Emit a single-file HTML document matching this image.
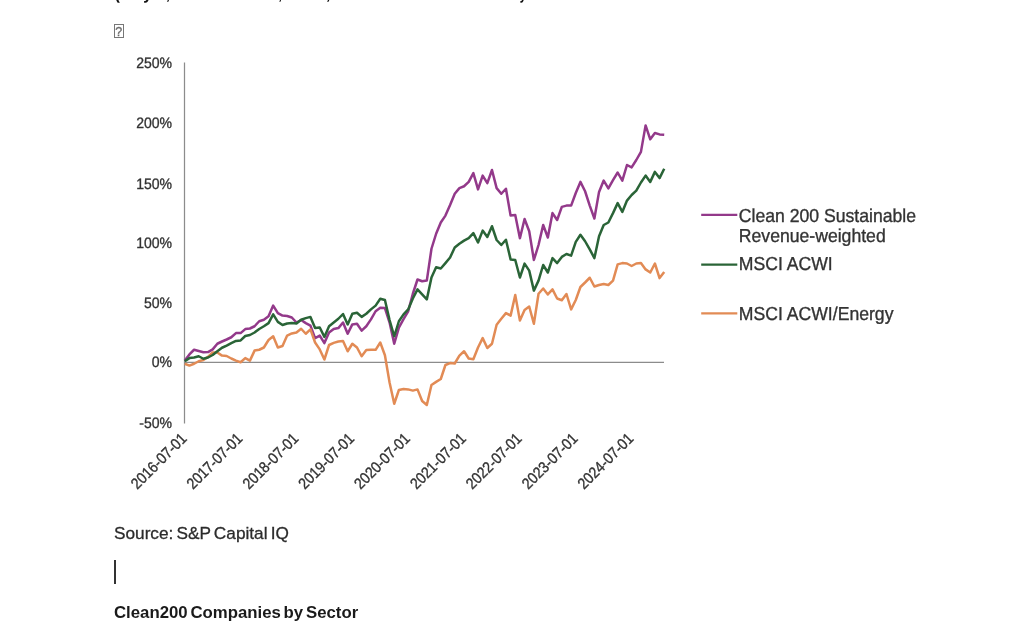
<!DOCTYPE html>
<html lang="en">
<head>
<meta charset="utf-8">
<title>Clean200 performance chart</title>
<style>
html,body{margin:0;padding:0;background:#fff;}
body{width:1024px;height:640px;position:relative;overflow:hidden;font-family:"Liberation Sans",Arial,sans-serif;color:#2b2b2b;}
#page{position:absolute;left:0;top:0;width:1024px;height:640px;overflow:hidden;background:#fff;}
.abs{position:absolute;white-space:nowrap;transform-origin:0 0;line-height:1;}
#qbox{left:113.9px;top:24.4px;width:9.7px;height:13.2px;border:1.2px solid #777;font-size:12.5px;line-height:14px;overflow:hidden;text-align:center;color:#6a6a6a;box-sizing:border-box;-webkit-text-stroke:0.3px #6a6a6a;}
#src{left:114px;top:524.5px;font-size:17.4px;transform:scaleX(0.99);word-spacing:-1.6px;-webkit-text-stroke:0.3px #2b2b2b;}
#cursor{left:114.2px;top:560.4px;width:1.5px;height:23.2px;background:#333;}
#hd{left:114px;top:603.5px;font-size:17.4px;font-weight:bold;color:#1a1a1a;transform:scaleX(0.965);word-spacing:-2px;}
</style>
</head>
<body>
<div id="page">
<div id="qbox" class="abs">?</div>
<svg width="1024" height="640" viewBox="0 0 1024 640" style="position:absolute;left:0;top:0" font-family="'Liberation Sans', Arial, sans-serif" fill="#333333" stroke="#333333" stroke-width="0.34" text-rendering="geometricPrecision">
<text x="114.6" y="-1.4" font-size="18.5" font-weight="bold" fill="#111" stroke="none" textLength="55.6" lengthAdjust="spacingAndGlyphs">(July 1,</text>
<text x="175" y="-1.4" font-size="18.5" font-weight="bold" fill="#111" stroke="none" textLength="107.2" lengthAdjust="spacingAndGlyphs">2016 to June 30,</text>
<text x="287" y="-1.4" font-size="18.5" font-weight="bold" fill="#111" stroke="none" textLength="43.7" lengthAdjust="spacingAndGlyphs">2025,</text>
<text x="336" y="-1.4" font-size="18.5" font-weight="bold" fill="#111" stroke="none" textLength="190.5" lengthAdjust="spacingAndGlyphs">total return in US dollars monthly</text>
<line x1="184.5" y1="62.5" x2="184.5" y2="423.4" stroke="#8c8c8c" stroke-width="1.25"/>
<line x1="184.5" y1="362.4" x2="664" y2="362.4" stroke="#8c8c8c" stroke-width="1.25"/>
<text x="0" y="0" font-size="15.1" text-anchor="end" transform="translate(172.1 68) scale(0.93 1)">250%</text>
<text x="0" y="0" font-size="15.1" text-anchor="end" transform="translate(172.1 128) scale(0.93 1)">200%</text>
<text x="0" y="0" font-size="15.1" text-anchor="end" transform="translate(172.1 188.6) scale(0.93 1)">150%</text>
<text x="0" y="0" font-size="15.1" text-anchor="end" transform="translate(172.1 248) scale(0.93 1)">100%</text>
<text x="0" y="0" font-size="15.1" text-anchor="end" transform="translate(172.1 308) scale(0.93 1)">50%</text>
<text x="0" y="0" font-size="15.1" text-anchor="end" transform="translate(172.1 367) scale(0.93 1)">0%</text>
<text x="0" y="0" font-size="15.1" text-anchor="end" transform="translate(172.1 428) scale(0.93 1)">-50%</text>
<text font-size="15.7" text-anchor="end" transform="translate(187.7 439.6) rotate(-45) scale(0.89 1)">2016-07-01</text>
<text font-size="15.7" text-anchor="end" transform="translate(243.5 439.6) rotate(-45) scale(0.89 1)">2017-07-01</text>
<text font-size="15.7" text-anchor="end" transform="translate(299.4 439.6) rotate(-45) scale(0.89 1)">2018-07-01</text>
<text font-size="15.7" text-anchor="end" transform="translate(355.2 439.6) rotate(-45) scale(0.89 1)">2019-07-01</text>
<text font-size="15.7" text-anchor="end" transform="translate(411.1 439.6) rotate(-45) scale(0.89 1)">2020-07-01</text>
<text font-size="15.7" text-anchor="end" transform="translate(466.9 439.6) rotate(-45) scale(0.89 1)">2021-07-01</text>
<text font-size="15.7" text-anchor="end" transform="translate(522.8 439.6) rotate(-45) scale(0.89 1)">2022-07-01</text>
<text font-size="15.7" text-anchor="end" transform="translate(578.7 439.6) rotate(-45) scale(0.89 1)">2023-07-01</text>
<text font-size="15.7" text-anchor="end" transform="translate(634.5 439.6) rotate(-45) scale(0.89 1)">2024-07-01</text>
<polyline fill="none" stroke="#93398A" stroke-width="2.5" stroke-linejoin="round" stroke-linecap="butt" points="184.75,360.60 189.41,354.40 194.06,349.75 198.72,351.00 203.37,352.25 208.03,352.10 212.68,349.40 217.34,343.75 221.99,341.50 226.65,339.50 231.30,337.25 235.96,333.10 240.61,333.10 245.26,329.10 249.92,328.50 254.57,326.25 259.23,321.25 263.88,319.75 268.54,316.25 273.19,305.60 277.85,313.10 282.50,315.60 287.16,316.00 291.81,317.50 296.47,322.50 301.12,320.00 305.78,323.10 310.44,325.60 315.09,338.10 319.75,335.60 324.40,343.10 329.06,332.50 333.71,329.00 338.37,328.10 343.02,322.50 347.68,333.75 352.33,324.40 356.99,323.75 361.64,330.60 366.30,326.25 370.95,319.40 375.61,311.25 380.26,307.75 384.92,308.10 389.57,322.50 394.23,343.75 398.88,327.60 403.54,319.20 408.19,311.25 412.85,293.75 417.50,279.50 422.15,281.25 426.81,280.60 431.47,248.75 436.12,233.75 440.78,222.50 445.43,215.60 450.09,205.00 454.74,193.75 459.40,188.10 464.05,186.25 468.71,181.90 473.36,173.10 478.02,189.40 482.67,175.60 487.32,183.10 491.98,170.00 496.63,188.10 501.29,193.75 505.94,188.75 510.60,215.60 515.25,215.00 519.91,238.30 524.57,219.00 529.22,231.25 533.88,260.00 538.53,245.00 543.18,225.00 547.84,237.50 552.50,213.10 557.15,220.00 561.81,206.90 566.46,205.60 571.12,205.60 575.77,193.00 580.42,181.90 585.08,191.25 589.74,205.60 594.39,218.50 599.05,191.90 603.70,180.60 608.36,188.40 613.01,180.20 617.66,172.50 622.32,180.60 626.98,165.00 631.63,167.40 636.29,160.00 640.94,151.90 645.60,125.40 650.25,139.30 654.90,133.00 659.56,134.40 664.22,134.75"/>
<polyline fill="none" stroke="#E28B55" stroke-width="2.5" stroke-linejoin="round" stroke-linecap="butt" points="184.75,363.75 189.41,365.60 194.06,363.75 198.72,361.25 203.37,360.00 208.03,356.90 212.68,352.50 217.34,352.50 221.99,355.60 226.65,356.00 231.30,358.50 235.96,360.60 240.61,362.25 245.26,358.10 249.92,360.60 254.57,350.60 259.23,349.75 263.88,347.50 268.54,340.00 273.19,336.25 277.85,347.50 282.50,346.00 287.16,335.60 291.81,333.40 296.47,332.50 301.12,328.75 305.78,333.75 310.44,329.40 315.09,342.50 319.75,349.40 324.40,359.50 329.06,345.00 333.71,342.90 338.37,341.50 343.02,341.00 347.68,351.25 352.33,343.75 356.99,347.50 361.64,356.25 366.30,350.00 370.95,349.70 375.61,349.80 380.26,342.50 384.92,355.30 389.57,382.50 394.23,403.75 398.88,390.00 403.54,389.00 408.19,389.40 412.85,390.60 417.50,389.40 422.15,401.00 426.81,405.00 431.47,385.00 436.12,381.90 440.78,379.00 445.43,365.00 450.09,363.10 454.74,363.50 459.40,355.60 464.05,351.25 468.71,358.50 473.36,359.20 478.02,347.50 482.67,338.10 487.32,348.00 491.98,343.75 496.63,324.75 501.29,318.75 505.94,313.10 510.60,315.60 515.25,295.00 519.91,320.60 524.57,310.00 529.22,306.50 533.88,323.75 538.53,293.75 543.18,288.50 547.84,294.40 552.50,289.40 557.15,298.50 561.81,300.25 566.46,294.00 571.12,309.40 575.77,300.00 580.42,287.00 585.08,282.50 589.74,277.75 594.39,286.50 599.05,285.00 603.70,284.00 608.36,285.00 613.01,280.60 617.66,264.40 622.32,263.10 626.98,263.50 631.63,266.00 636.29,263.50 640.94,263.10 645.60,269.40 650.25,272.50 654.90,263.50 659.56,278.10 664.22,271.90"/>
<polyline fill="none" stroke="#2A6437" stroke-width="2.5" stroke-linejoin="round" stroke-linecap="butt" points="184.75,361.25 189.41,358.10 194.06,357.50 198.72,356.25 203.37,358.75 208.03,357.50 212.68,355.00 217.34,351.25 221.99,347.75 226.65,345.60 231.30,343.10 235.96,340.90 240.61,340.40 245.26,336.00 249.92,335.00 254.57,332.50 259.23,329.00 263.88,326.25 268.54,323.10 273.19,314.40 277.85,321.90 282.50,325.00 287.16,323.50 291.81,323.10 296.47,323.50 301.12,319.75 305.78,318.10 310.44,316.90 315.09,328.10 319.75,327.50 324.40,336.90 329.06,326.25 333.71,322.50 338.37,318.75 343.02,314.00 347.68,324.40 352.33,313.75 356.99,312.75 361.64,316.90 366.30,313.75 370.95,309.40 375.61,305.60 380.26,298.75 384.92,300.00 389.57,320.00 394.23,336.25 398.88,321.25 403.54,314.40 408.19,309.40 412.85,298.50 417.50,289.40 422.15,294.40 426.81,299.40 431.47,277.50 436.12,267.25 440.78,268.50 445.43,263.10 450.09,257.50 454.74,247.50 459.40,243.75 464.05,240.60 468.71,238.10 473.36,233.10 478.02,242.50 482.67,230.60 487.32,236.90 491.98,226.25 496.63,240.00 501.29,245.00 505.94,239.75 510.60,259.40 515.25,260.00 519.91,277.50 524.57,263.60 529.22,270.60 533.88,290.60 538.53,280.60 543.18,265.00 547.84,272.50 552.50,258.10 557.15,263.10 561.81,256.90 566.46,254.00 571.12,255.60 575.77,241.90 580.42,234.75 585.08,241.25 589.74,249.40 594.39,258.10 599.05,236.25 603.70,225.00 608.36,222.50 613.01,213.10 617.66,203.10 622.32,211.90 626.98,200.60 631.63,195.00 636.29,190.60 640.94,182.50 645.60,175.60 650.25,181.90 654.90,171.90 659.56,178.10 664.22,168.75"/>
<line x1="701.2" y1="214.9" x2="737.3" y2="214.9" stroke="#93398A" stroke-width="2.4"/>
<line x1="701.2" y1="264.6" x2="737.3" y2="264.6" stroke="#2A6437" stroke-width="2.4"/>
<line x1="701.2" y1="313.4" x2="737.3" y2="313.4" stroke="#E28B55" stroke-width="2.4"/>
<text x="0" y="221.6" font-size="18.8" transform="translate(738.8 0) scale(0.938 1)">Clean 200 Sustainable</text>
<text x="0" y="241.6" font-size="18.8" transform="translate(738.8 0) scale(0.938 1)">Revenue-weighted</text>
<text x="0" y="270.2" font-size="18.8" transform="translate(738.8 0) scale(0.938 1)">MSCI ACWI</text>
<text x="0" y="319.6" font-size="18.8" transform="translate(738.8 0) scale(0.938 1)">MSCI ACWI/Energy</text>
</svg>
<div id="src" class="abs">Source: S&amp;P Capital IQ</div>
<div id="cursor" class="abs"></div>
<div id="hd" class="abs">Clean200 Companies by Sector</div>
</div>
</body>
</html>
